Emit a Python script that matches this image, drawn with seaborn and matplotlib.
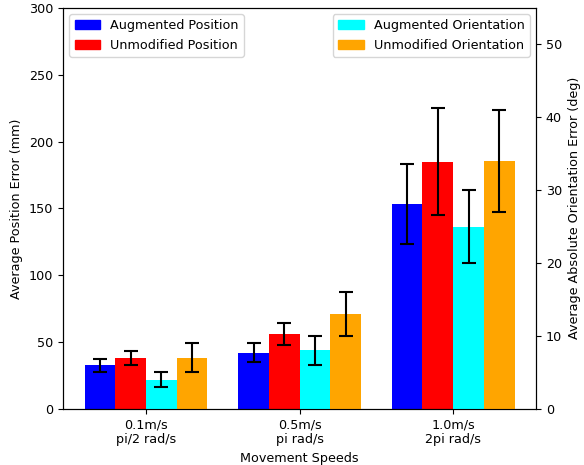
import matplotlib
matplotlib.use("Agg")
import matplotlib.pyplot as plt
import seaborn as sns
import pandas as pd
import numpy as np
from matplotlib.patches import Patch

plt.rcParams["font.size"] = 9.2

speeds = ["0.1m/s\npi/2 rad/s", "0.5m/s\npi rad/s", "1.0m/s\n2pi rad/s"]
series = ["Augmented Position", "Unmodified Position", "Augmented Orientation", "Unmodified Orientation"]
colors = ["blue", "red", "cyan", "orange"]

aug_pos = [32.5, 42, 153.5]
aug_pos_err = [5, 7, 30]
unmod_pos = [38, 56, 185]
unmod_pos_err = [5, 8.5, 40]
aug_ori = [4, 8, 25]
aug_ori_err = [1, 2, 5]
unmod_ori = [7, 13, 34]
unmod_ori_err = [2, 3, 7]

pos_df = pd.DataFrame({
    "speed": speeds * 2,
    "series": [series[0]] * 3 + [series[1]] * 3,
    "value": aug_pos + unmod_pos,
})
ori_df = pd.DataFrame({
    "speed": speeds * 2,
    "series": [series[2]] * 3 + [series[3]] * 3,
    "value": aug_ori + unmod_ori,
})
palette = dict(zip(series, colors))

fig, ax1 = plt.subplots(figsize=(5.84, 4.65), dpi=100)
fig.subplots_adjust(left=0.108, right=0.918, top=0.983, bottom=0.121)
ax2 = ax1.twinx()

sns.barplot(data=pos_df, x="speed", y="value", hue="series", hue_order=series,
            order=speeds, palette=palette, saturation=1, errorbar=None,
            linewidth=0, width=0.8, legend=False, ax=ax1)
sns.barplot(data=ori_df, x="speed", y="value", hue="series", hue_order=series,
            order=speeds, palette=palette, saturation=1, errorbar=None,
            linewidth=0, width=0.8, legend=False, ax=ax2)

idx = np.arange(len(speeds))
offsets = [-0.3, -0.1, 0.1, 0.3]
ekw = dict(fmt="none", ecolor="black", capsize=5, elinewidth=1.5, capthick=1.5)
ax1.errorbar(idx + offsets[0], aug_pos, yerr=aug_pos_err, **ekw)
ax1.errorbar(idx + offsets[1], unmod_pos, yerr=unmod_pos_err, **ekw)
ax2.errorbar(idx + offsets[2], aug_ori, yerr=aug_ori_err, **ekw)
ax2.errorbar(idx + offsets[3], unmod_ori, yerr=unmod_ori_err, **ekw)

ax1.set_ylim(0, 300)
ax2.set_ylim(0, 55)
ax1.set_xlim(-0.54, 2.54)
ax1.set_yticks(np.arange(0, 301, 50))
ax2.set_yticks(np.arange(0, 51, 10))
ax1.set_xlabel("Movement Speeds")
ax1.set_ylabel("Average Position Error (mm)")
ax2.set_ylabel("Average Absolute Orientation Error (deg)")
ax2.set_xlabel("")

h1 = [Patch(color=colors[0], label=series[0]), Patch(color=colors[1], label=series[1])]
h2 = [Patch(color=colors[2], label=series[2]), Patch(color=colors[3], label=series[3])]
ax1.legend(handles=h1, loc="upper left")
ax2.legend(handles=h2, loc="upper right")

fig.savefig("out.png", dpi=100)
